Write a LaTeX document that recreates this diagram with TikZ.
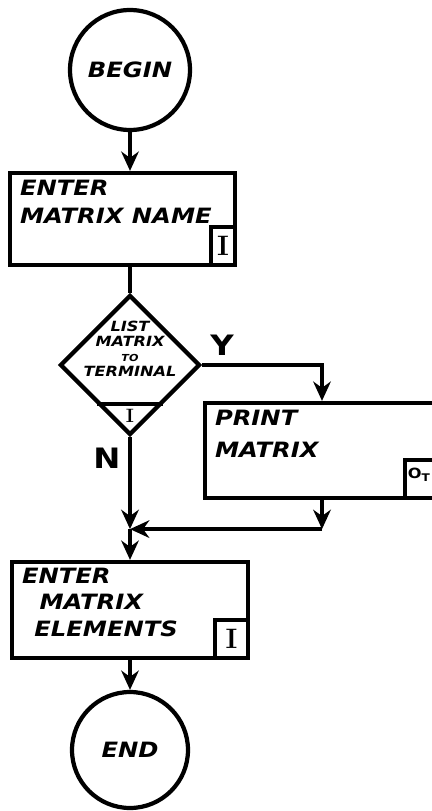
\documentclass[tikz,border=0pt]{standalone}
\usepackage{fontspec}
\newfontfamily\hand[FakeStretch=1.15]{DejaVu Sans}
\usetikzlibrary{arrows.meta, calc, positioning, shapes.geometric}

\begin{document}
\begin{tikzpicture}[x=0.02cm, y=-0.02cm, line width=2.4pt,
  flow/.style={-{Stealth[length=11pt, width=10pt]}},
  term/.style={draw, circle, inner sep=0pt, font=\hand\bfseries\itshape\fontsize{12}{13}\selectfont},
  procbox/.style={draw, rectangle, inner sep=0pt},
  tag/.style={draw, rectangle, inner sep=0pt, minimum height=0.76cm, font=\bfseries\fontsize{16}{16}\selectfont},
  boxtext/.style={anchor=north west, align=left, inner sep=0pt, font=\hand\bfseries\itshape\fontsize{12}{16}\selectfont},
  yn/.style={inner sep=0pt, font=\hand\bfseries\fontsize{16}{16}\selectfont}]
  \useasboundingbox (0,0) rectangle (432,811);

  % start
  \node[term, minimum size=2.4cm] (begin) at (130,70) {BEGIN};

  % name entry
  \node[procbox, minimum width=4.5cm, minimum height=1.84cm] (name) at (122.5,219) {};
  \node[boxtext] (name-txt) at ($(name.north west)+(10,7)$) {ENTER\\MATRIX NAME};
  \node[tag, minimum width=0.48cm, anchor=south east] (name-tag) at (name.south east) {I};

  % decision
  \node[draw, diamond, aspect=1, inner sep=0pt, minimum width=2.8cm, minimum height=2.8cm] (ask) at (130,365) {};
  \node[inner sep=0pt, align=center, font=\hand\bfseries\itshape\fontsize{8}{8.5}\selectfont] (ask-txt) at (130,349)
    {LIST\\MATRIX\\{\fontsize{5.5}{6}\selectfont TO}\\TERMINAL};
  \draw ($(ask.west)!0.54!(ask.south)$) coordinate (bar-l) -- ($(ask.east)!0.54!(ask.south)$) coordinate (bar-r);
  \node[inner sep=0pt, font=\bfseries\fontsize{11}{11}\selectfont] (ask-tag) at (130,416) {I};
  \node[yn] (yes) at (222,345) {Y};
  \node[yn] (no) at (107,458) {N};

  % print
  \node[procbox, minimum width=4.68cm, minimum height=1.9cm] (print) at (322,450.5) {};
  \node[boxtext] (print-txt) at ($(print.north west)+(10,7)$) {PRINT\\[2pt]MATRIX};
  \node[tag, minimum width=0.68cm, anchor=south east] (print-tag) at (print.south east) {};
  \node[anchor=north west, inner sep=0pt, font=\hand\bfseries\fontsize{8}{8}\selectfont] (print-tag-txt) at ($(print-tag.north west)+(3,8)$) {O\textsubscript{T}};

  % element entry
  \node[procbox, minimum width=4.72cm, minimum height=1.92cm] (elem) at (130,610) {};
  \node[boxtext, font=\hand\bfseries\itshape\fontsize{12}{15}\selectfont] (elem-txt) at ($(elem.north west)+(10,6)$)
    {ENTER\\\hspace{10pt}MATRIX\\\hspace{7pt}ELEMENTS};
  \node[tag, minimum width=0.66cm, anchor=south east] (elem-tag) at (elem.south east) {I};

  % stop
  \node[term, minimum size=2.32cm] (end) at (130,750) {END};

  \coordinate (ret) at ($(print.south)+(0,29)$);
  \coordinate (join) at (ask.south |- ret);

  \draw[flow] (begin.south) -- (begin.south |- name.north);
  \draw (ask.north |- name.south) -- (ask.north);
  \draw[flow] (ask.east) -| (print.north);
  \draw[flow] (print.south) -- (ret);
  \draw[flow] (ret) -- (join);
  \draw[flow] (ask.south) -- (join);
  \draw[flow] (join) -- (elem.north);
  \draw[flow] (elem.south) -- (end.north);
\end{tikzpicture}
\end{document}
